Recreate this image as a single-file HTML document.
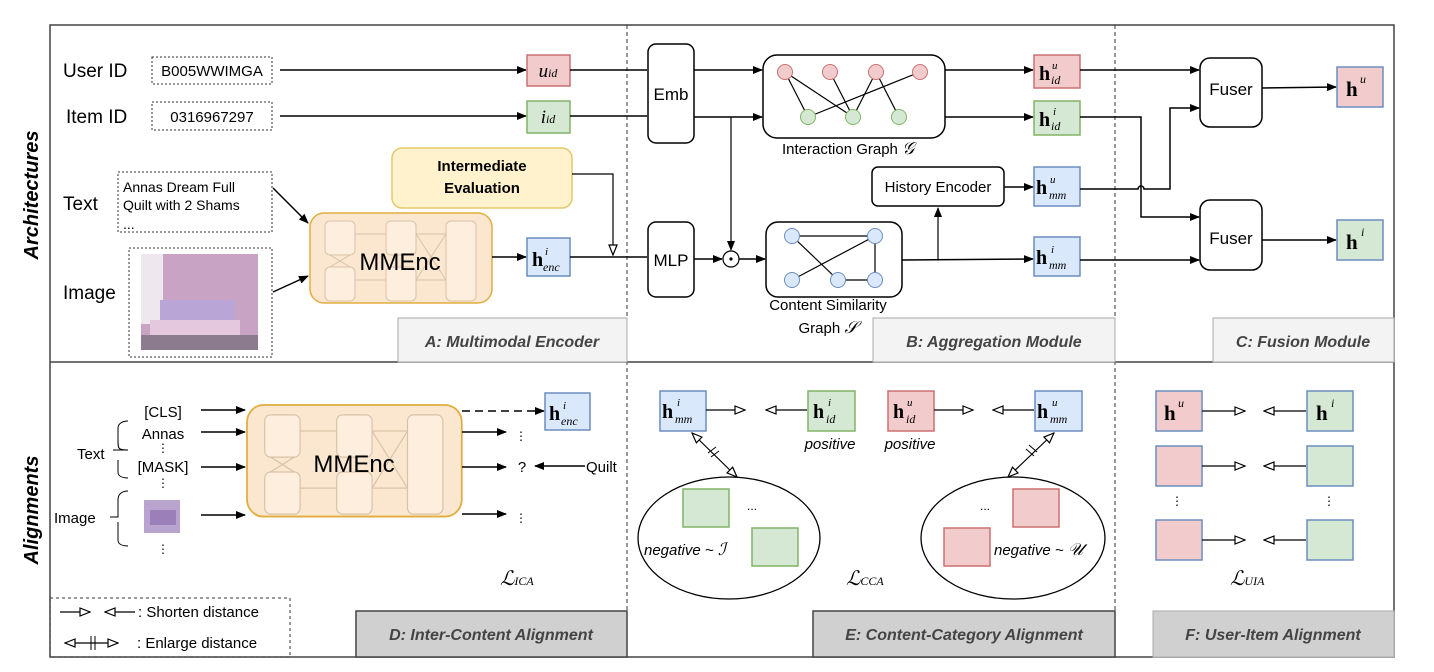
<!DOCTYPE html>
<html><head><meta charset="utf-8"><style>
html,body{margin:0;padding:0;background:#fff;}
svg{display:block;font-family:"Liberation Sans",sans-serif;}
.m{font-family:"Liberation Serif",serif;}
</style></head><body>
<svg width="1434" height="672" viewBox="0 0 1434 672" xmlns="http://www.w3.org/2000/svg">
<defs>
<marker id="a" markerWidth="10" markerHeight="8" refX="9" refY="4" orient="auto" markerUnits="userSpaceOnUse"><path d="M0,0 L10,4 L0,8 z" fill="#000"/></marker>
<marker id="o" markerWidth="12" markerHeight="10" refX="11" refY="5" orient="auto" markerUnits="userSpaceOnUse"><path d="M1,1 L11,5 L1,9 z" fill="#fff" stroke="#000" stroke-width="1.2"/></marker>
<marker id="os" markerWidth="12" markerHeight="10" refX="1" refY="5" orient="auto" markerUnits="userSpaceOnUse"><path d="M11,1 L1,5 L11,9 z" fill="#fff" stroke="#000" stroke-width="1.2"/></marker>
<g id="mm">
<rect x="0" y="0" width="182" height="90" rx="14" fill="#fbe6cf" stroke="#e1ad3f" stroke-width="1.5"/>
<g fill="#fdeedd" stroke="#d9c2a8" stroke-width="1">
<rect x="15" y="8" width="30" height="34" rx="5"/><rect x="15" y="54" width="30" height="34" rx="5"/>
<rect x="76" y="8" width="30" height="34" rx="5"/><rect x="76" y="54" width="30" height="34" rx="5"/>
<rect x="136" y="8" width="30" height="80" rx="5"/>
<path d="M45,21 H76 M45,67 H76 M106,21 H136 M106,67 H136 M20,42 L40,54 M40,42 L20,54 M106,21 L136,67 M136,21 L106,67" fill="none"/>
</g>
</g>
</defs>
<rect x="50" y="25" width="1344" height="632" fill="#fff" stroke="#444" stroke-width="1.5"/>
<line x1="50" y1="362" x2="1394" y2="362" stroke="#444" stroke-width="1.5"/>
<line x1="627" y1="25" x2="627" y2="657" stroke="#333" stroke-dasharray="4,3"/>
<line x1="1115" y1="25" x2="1115" y2="657" stroke="#333" stroke-dasharray="4,3"/>
<text transform="translate(38,195) rotate(-90)" text-anchor="middle" font-size="20" font-weight="bold" font-style="italic">Architectures</text>
<text transform="translate(38,510) rotate(-90)" text-anchor="middle" font-size="20" font-weight="bold" font-style="italic">Alignments</text>

<rect x="398" y="318" width="229" height="44" fill="#f3f3f3" stroke="#aaa"/>
<text x="512" y="347" text-anchor="middle" font-size="16" font-weight="bold" font-style="italic" fill="#444">A: Multimodal Encoder</text>
<rect x="873" y="318" width="242" height="44" fill="#f3f3f3" stroke="#aaa"/>
<text x="994" y="347" text-anchor="middle" font-size="16" font-weight="bold" font-style="italic" fill="#444">B: Aggregation Module</text>
<rect x="1213" y="318" width="181" height="44" fill="#f3f3f3" stroke="#aaa"/>
<text x="1303" y="347" text-anchor="middle" font-size="16" font-weight="bold" font-style="italic" fill="#444">C: Fusion Module</text>
<rect x="356" y="611" width="271" height="46" fill="#d0d0d0" stroke="#444" stroke-width="1.5"/>
<text x="491" y="640" text-anchor="middle" font-size="16" font-weight="bold" font-style="italic" fill="#444">D: Inter-Content Alignment</text>
<rect x="813" y="611" width="302" height="46" fill="#d0d0d0" stroke="#444" stroke-width="1.5"/>
<text x="964" y="640" text-anchor="middle" font-size="16" font-weight="bold" font-style="italic" fill="#444">E: Content-Category Alignment</text>
<rect x="1153" y="611" width="241" height="46" fill="#d0d0d0" stroke="#aaa"/>
<text x="1273" y="640" text-anchor="middle" font-size="16" font-weight="bold" font-style="italic" fill="#444">F: User-Item Alignment</text>

<text x="63" y="77" font-size="19">User ID</text>
<rect x="152" y="57" width="120" height="27" fill="#fff" stroke="#333" stroke-dasharray="2,2"/>
<text x="212" y="76" text-anchor="middle" font-size="15">B005WWIMGA</text>
<line x1="280" y1="70" x2="526" y2="70" stroke="#000" stroke-width="1.5" marker-end="url(#a)"/>
<rect x="527" y="55" width="43" height="31" fill="#f2cccc" stroke="#c97070" stroke-width="1.5"/>
<text x="548" y="77" text-anchor="middle" class="m" font-size="19" font-style="italic">u<tspan font-size="12">id</tspan></text>
<text x="66" y="123" font-size="19">Item ID</text>
<rect x="152" y="102" width="120" height="28" fill="#fff" stroke="#333" stroke-dasharray="2,2"/>
<text x="212" y="122" text-anchor="middle" font-size="15">0316967297</text>
<line x1="280" y1="116" x2="526" y2="116" stroke="#000" stroke-width="1.5" marker-end="url(#a)"/>
<rect x="527" y="101" width="43" height="32" fill="#d5e8d4" stroke="#82b366" stroke-width="1.5"/>
<text x="548" y="123" text-anchor="middle" class="m" font-size="19" font-style="italic">i<tspan font-size="12">id</tspan></text>

<text x="63" y="210" font-size="19">Text</text>
<rect x="118" y="172" width="154" height="60" fill="#fff" stroke="#333" stroke-dasharray="2,2"/>
<text x="123" y="192" font-size="14">Annas Dream Full</text>
<text x="123" y="210" font-size="14">Quilt with 2 Shams</text>
<text x="123" y="229" font-size="14">...</text>
<text x="63" y="299" font-size="19">Image</text>
<rect x="129" y="248" width="143" height="109" fill="#fff" stroke="#333" stroke-dasharray="2,2"/>
<rect x="141" y="254" width="117" height="96" fill="#c9a3c4"/>
<rect x="141" y="254" width="22" height="70" fill="#efe7ee"/>
<rect x="160" y="300" width="75" height="40" fill="#b9a6d6"/>
<rect x="150" y="320" width="90" height="25" fill="#e3c8de"/>
<rect x="141" y="335" width="117" height="15" fill="#8c7a8e"/>
<line x1="273" y1="188" x2="308" y2="223" stroke="#000" stroke-width="1.5" marker-end="url(#a)"/>
<line x1="273" y1="292" x2="308" y2="276" stroke="#000" stroke-width="1.5" marker-end="url(#a)"/>
<use href="#mm" x="310" y="213"/>
<text x="400" y="270" text-anchor="middle" font-size="24">MMEnc</text>
<line x1="492" y1="257" x2="526" y2="257" stroke="#000" stroke-width="1.5" marker-end="url(#a)"/>
<rect x="527" y="238" width="43" height="38" fill="#dae8fc" stroke="#6c8ebf" stroke-width="1.5"/>
<text x="532" y="266" class="m" font-size="20" font-weight="bold">h</text><text x="545" y="255" class="m" font-size="11" font-style="italic">i</text><text x="543" y="271" class="m" font-size="12" font-style="italic">enc</text>
<rect x="392" y="148" width="180" height="60" rx="10" fill="#fff2cc" stroke="#e6c96a" stroke-width="1.5"/>
<text x="482" y="171" text-anchor="middle" font-size="15" font-weight="bold">Intermediate</text>
<text x="482" y="193" text-anchor="middle" font-size="15" font-weight="bold">Evaluation</text>
<polyline points="572,174 613,174 613,255" fill="none" stroke="#000" stroke-width="1.2" marker-end="url(#o)"/>
<line x1="570" y1="257" x2="647" y2="257" stroke="#000" stroke-width="1.5"/>
<line x1="570" y1="70" x2="647" y2="70" stroke="#000" stroke-width="1.5"/>
<line x1="570" y1="116" x2="647" y2="116" stroke="#000" stroke-width="1.5"/>

<rect x="648" y="44" width="46" height="99" rx="8" fill="#fff" stroke="#000" stroke-width="1.5"/>
<text x="671" y="100" text-anchor="middle" font-size="17">Emb</text>
<rect x="648" y="222" width="46" height="75" rx="8" fill="#fff" stroke="#000" stroke-width="1.5"/>
<text x="671" y="266" text-anchor="middle" font-size="17">MLP</text>
<line x1="694" y1="70" x2="762" y2="70" stroke="#000" stroke-width="1.5" marker-end="url(#a)"/>
<line x1="694" y1="117" x2="762" y2="117" stroke="#000" stroke-width="1.5" marker-end="url(#a)"/>
<line x1="731" y1="117" x2="731" y2="250" stroke="#000" stroke-width="1.2" marker-end="url(#a)"/>
<line x1="694" y1="259" x2="722" y2="259" stroke="#000" stroke-width="1.5" marker-end="url(#a)"/>
<circle cx="731" cy="259" r="8" fill="#fff" stroke="#000" stroke-width="1.2"/><circle cx="731" cy="259" r="1.6"/>
<line x1="739" y1="259" x2="765" y2="259" stroke="#000" stroke-width="1.5" marker-end="url(#a)"/>
<rect x="763" y="55" width="182" height="83" rx="14" fill="#fff" stroke="#000" stroke-width="1.5"/>
<g stroke="#000" stroke-width="1.2">
<line x1="785" y1="72" x2="808" y2="117"/><line x1="785" y1="72" x2="853" y2="117"/><line x1="830" y1="72" x2="853" y2="117"/>
<line x1="876" y1="72" x2="853" y2="117"/><line x1="876" y1="72" x2="899" y2="117"/><line x1="920" y1="72" x2="808" y2="117"/>
</g>
<g fill="#f2cccc" stroke="#c97070"><circle cx="785" cy="72" r="7.5"/><circle cx="830" cy="72" r="7.5"/><circle cx="876" cy="72" r="7.5"/><circle cx="920" cy="72" r="7.5"/></g>
<g fill="#d5e8d4" stroke="#82b366"><circle cx="808" cy="117" r="7.5"/><circle cx="853" cy="117" r="7.5"/><circle cx="899" cy="117" r="7.5"/></g>
<text x="782" y="154" font-size="15">Interaction Graph <tspan class="m" font-style="italic" font-size="17">𝒢</tspan></text>
<rect x="766" y="222" width="136" height="75" rx="12" fill="#fff" stroke="#000" stroke-width="1.5"/>
<g stroke="#000" stroke-width="1.2">
<line x1="792" y1="236" x2="875" y2="236"/><line x1="792" y1="236" x2="838" y2="280"/><line x1="875" y1="236" x2="792" y2="280"/>
<line x1="875" y1="236" x2="875" y2="280"/><line x1="838" y1="280" x2="875" y2="280"/></g>
<g fill="#dae8fc" stroke="#6c8ebf"><circle cx="792" cy="236" r="7.5"/><circle cx="875" cy="236" r="7.5"/><circle cx="792" cy="280" r="7.5"/><circle cx="838" cy="280" r="7.5"/><circle cx="875" cy="280" r="7.5"/></g>
<text x="828" y="310" text-anchor="middle" font-size="15">Content Similarity</text>
<text x="828" y="333" text-anchor="middle" font-size="15">Graph <tspan class="m" font-style="italic" font-size="17">𝒮</tspan></text>
<line x1="902" y1="260" x2="1033" y2="259" stroke="#000" stroke-width="1.5" marker-end="url(#a)"/>
<line x1="938" y1="260" x2="938" y2="208" stroke="#000" stroke-width="1.2" marker-end="url(#a)"/>
<rect x="872" y="167" width="132" height="39" rx="6" fill="#fff" stroke="#000" stroke-width="1.5"/>
<text x="938" y="192" text-anchor="middle" font-size="15">History Encoder</text>
<line x1="1004" y1="187" x2="1033" y2="187" stroke="#000" stroke-width="1.5" marker-end="url(#a)"/>
<line x1="945" y1="70" x2="1033" y2="70" stroke="#000" stroke-width="1.5" marker-end="url(#a)"/>
<line x1="945" y1="117" x2="1033" y2="117" stroke="#000" stroke-width="1.5" marker-end="url(#a)"/>
<rect x="1034" y="55" width="46" height="33" fill="#f2cccc" stroke="#c97070" stroke-width="1.5"/>
<text x="1039" y="80" class="m" font-size="20" font-weight="bold">h</text><text x="1052" y="69" class="m" font-size="11" font-style="italic">u</text><text x="1051" y="84" class="m" font-size="12" font-style="italic">id</text>
<rect x="1034" y="101" width="46" height="34" fill="#d5e8d4" stroke="#82b366" stroke-width="1.5"/>
<text x="1039" y="126" class="m" font-size="20" font-weight="bold">h</text><text x="1053" y="115" class="m" font-size="11" font-style="italic">i</text><text x="1051" y="130" class="m" font-size="12" font-style="italic">id</text>
<rect x="1034" y="167" width="46" height="39" fill="#dae8fc" stroke="#6c8ebf" stroke-width="1.5"/>
<text x="1036" y="194" class="m" font-size="20" font-weight="bold">h</text><text x="1050" y="183" class="m" font-size="11" font-style="italic">u</text><text x="1049" y="199" class="m" font-size="12" font-style="italic">mm</text>
<rect x="1034" y="237" width="46" height="39" fill="#dae8fc" stroke="#6c8ebf" stroke-width="1.5"/>
<text x="1036" y="264" class="m" font-size="20" font-weight="bold">h</text><text x="1051" y="253" class="m" font-size="11" font-style="italic">i</text><text x="1049" y="269" class="m" font-size="12" font-style="italic">mm</text>

<line x1="1080" y1="70" x2="1199" y2="70" stroke="#000" stroke-width="1.5" marker-end="url(#a)"/>
<path d="M1080,189 H1138 a3,3 0 0 1 6,0 H1170 V108 H1199" fill="none" stroke="#000" stroke-width="1.5" marker-end="url(#a)"/>
<polyline points="1080,117 1141,117 1141,217 1199,217" fill="none" stroke="#000" stroke-width="1.5" marker-end="url(#a)"/>
<line x1="1080" y1="260" x2="1199" y2="260" stroke="#000" stroke-width="1.5" marker-end="url(#a)"/>
<rect x="1200" y="58" width="62" height="69" rx="10" fill="#fff" stroke="#000" stroke-width="1.5"/>
<text x="1231" y="95" text-anchor="middle" font-size="17">Fuser</text>
<rect x="1200" y="200" width="62" height="70" rx="10" fill="#fff" stroke="#000" stroke-width="1.5"/>
<text x="1231" y="244" text-anchor="middle" font-size="17">Fuser</text>
<line x1="1262" y1="88" x2="1336" y2="87" stroke="#000" stroke-width="1.5" marker-end="url(#a)"/>
<line x1="1262" y1="240" x2="1336" y2="240" stroke="#000" stroke-width="1.5" marker-end="url(#a)"/>
<rect x="1337" y="67" width="46" height="40" fill="#f2cccc" stroke="#6c8ebf" stroke-width="1.5"/>
<text x="1346" y="96" class="m" font-size="21" font-weight="bold">h</text><text x="1360" y="83" class="m" font-size="12" font-style="italic">u</text>
<rect x="1337" y="220" width="46" height="40" fill="#d5e8d4" stroke="#6c8ebf" stroke-width="1.5"/>
<text x="1346" y="249" class="m" font-size="21" font-weight="bold">h</text><text x="1361" y="236" class="m" font-size="12" font-style="italic">i</text>

<text x="163" y="417" text-anchor="middle" font-size="15">[CLS]</text>
<text x="163" y="439" text-anchor="middle" font-size="15">Annas</text>
<text x="163" y="452" text-anchor="middle" font-size="12">⋮</text>
<text x="163" y="472" text-anchor="middle" font-size="15">[MASK]</text>
<text x="163" y="487" text-anchor="middle" font-size="12">⋮</text>
<text x="163" y="553" text-anchor="middle" font-size="12">⋮</text>
<text x="77" y="459" font-size="15">Text</text>
<text x="54" y="523" font-size="15">Image</text>
<path d="M128,450 H113 M128,450 C118,450 118,449 118,440 V428 C118,424 122,421 128,421 M118,460 V472 C118,476 122,478 128,478" fill="none" stroke="#000"/>
<path d="M110,517 H118 C118,510 118,505 118,500 C118,494 122,491 128,491 M118,522 V540 C118,544 122,546 128,546" fill="none" stroke="#000"/>
<rect x="144" y="500" width="36" height="33" fill="#b8a4cf"/>
<rect x="150" y="510" width="26" height="15" fill="#9a7fb8"/>
<line x1="201" y1="410" x2="245" y2="410" stroke="#000" stroke-width="1.5" marker-end="url(#a)"/>
<line x1="201" y1="432" x2="245" y2="432" stroke="#000" stroke-width="1.5" marker-end="url(#a)"/>
<line x1="201" y1="467" x2="245" y2="467" stroke="#000" stroke-width="1.5" marker-end="url(#a)"/>
<line x1="201" y1="515" x2="245" y2="515" stroke="#000" stroke-width="1.5" marker-end="url(#a)"/>
<use href="#mm" transform="translate(247,405) scale(1.18,1.24)"/>
<text x="354" y="472" text-anchor="middle" font-size="24">MMEnc</text>
<line x1="462" y1="411" x2="544" y2="411" stroke="#000" stroke-width="1.5" stroke-dasharray="8,5" marker-end="url(#a)"/>
<line x1="462" y1="432" x2="506" y2="432" stroke="#000" stroke-width="1.5" marker-end="url(#a)"/>
<line x1="462" y1="467" x2="506" y2="467" stroke="#000" stroke-width="1.5" marker-end="url(#a)"/>
<line x1="462" y1="514" x2="506" y2="514" stroke="#000" stroke-width="1.5" marker-end="url(#a)"/>
<text x="521" y="440" text-anchor="middle" font-size="12">⋮</text>
<text x="521" y="522" text-anchor="middle" font-size="12">⋮</text>
<text x="522" y="472" text-anchor="middle" font-size="15">?</text>
<line x1="585" y1="466" x2="535" y2="466" stroke="#000" stroke-width="1.5" marker-end="url(#a)"/>
<text x="586" y="472" font-size="15">Quilt</text>
<rect x="545" y="393" width="45" height="37" fill="#dae8fc" stroke="#6c8ebf" stroke-width="1.5"/>
<text x="549" y="420" class="m" font-size="20" font-weight="bold">h</text><text x="563" y="409" class="m" font-size="11" font-style="italic">i</text><text x="561" y="425" class="m" font-size="12" font-style="italic">enc</text>
<text x="500" y="585" class="m" font-size="20" font-style="italic">ℒ<tspan font-size="12">ICA</tspan></text>
<rect x="50" y="598" width="240" height="59" fill="none" stroke="#333" stroke-dasharray="3,3"/>
<line x1="60" y1="612" x2="90" y2="612" stroke="#000" stroke-width="1.2" marker-end="url(#o)"/>
<line x1="135" y1="612" x2="105" y2="612" stroke="#000" stroke-width="1.2" marker-end="url(#o)"/>
<text x="138" y="617" font-size="15">: Shorten distance</text>
<line x1="65" y1="643" x2="118" y2="643" stroke="#000" stroke-width="1.2" marker-start="url(#os)" marker-end="url(#o)"/>
<line x1="91" y1="636" x2="91" y2="650" stroke="#000"/><line x1="95" y1="636" x2="95" y2="650" stroke="#000"/>
<text x="137" y="648" font-size="15">: Enlarge distance</text>

<rect x="660" y="391" width="46" height="40" fill="#dae8fc" stroke="#6c8ebf" stroke-width="1.5"/>
<text x="662" y="418" class="m" font-size="20" font-weight="bold">h</text><text x="677" y="406" class="m" font-size="11" font-style="italic">i</text><text x="675" y="423" class="m" font-size="12" font-style="italic">mm</text>
<line x1="706" y1="410" x2="745" y2="410" stroke="#000" stroke-width="1.2" marker-end="url(#o)"/>
<line x1="807" y1="410" x2="766" y2="410" stroke="#000" stroke-width="1.2" marker-end="url(#o)"/>
<rect x="808" y="391" width="47" height="40" fill="#d5e8d4" stroke="#82b366" stroke-width="1.5"/>
<text x="813" y="418" class="m" font-size="20" font-weight="bold">h</text><text x="828" y="406" class="m" font-size="11" font-style="italic">i</text><text x="826" y="423" class="m" font-size="12" font-style="italic">id</text>
<text x="830" y="449" text-anchor="middle" font-size="15" font-style="italic">positive</text>
<rect x="888" y="391" width="46" height="40" fill="#f2cccc" stroke="#c97070" stroke-width="1.5"/>
<text x="893" y="418" class="m" font-size="20" font-weight="bold">h</text><text x="907" y="406" class="m" font-size="11" font-style="italic">u</text><text x="906" y="423" class="m" font-size="12" font-style="italic">id</text>
<text x="910" y="449" text-anchor="middle" font-size="15" font-style="italic">positive</text>
<line x1="934" y1="410" x2="973" y2="410" stroke="#000" stroke-width="1.2" marker-end="url(#o)"/>
<line x1="1034" y1="410" x2="993" y2="410" stroke="#000" stroke-width="1.2" marker-end="url(#o)"/>
<rect x="1035" y="391" width="47" height="40" fill="#dae8fc" stroke="#6c8ebf" stroke-width="1.5"/>
<text x="1037" y="418" class="m" font-size="20" font-weight="bold">h</text><text x="1052" y="406" class="m" font-size="11" font-style="italic">u</text><text x="1050" y="423" class="m" font-size="12" font-style="italic">mm</text>
<line x1="692" y1="433" x2="737" y2="477" stroke="#000" stroke-width="1.2" marker-start="url(#os)" marker-end="url(#o)"/>
<line x1="1054" y1="433" x2="1008" y2="477" stroke="#000" stroke-width="1.2" marker-start="url(#os)" marker-end="url(#o)"/>
<path d="M708,453 L716,447 M711,457 L719,451" stroke="#000"/>
<path d="M1026,449 L1034,456 M1029,445 L1037,452" stroke="#000"/>
<ellipse cx="729" cy="538" rx="91" ry="61" fill="none" stroke="#000" stroke-width="1.3"/>
<ellipse cx="1013" cy="538" rx="92" ry="61" fill="none" stroke="#000" stroke-width="1.3"/>
<rect x="683" y="489" width="46" height="38" fill="#d5e8d4" stroke="#82b366" stroke-width="1.5"/>
<rect x="752" y="528" width="46" height="38" fill="#d5e8d4" stroke="#82b366" stroke-width="1.5"/>
<text x="747" y="510" font-size="12">...</text>
<text x="644" y="555" font-size="15" font-style="italic">negative ~ <tspan class="m" font-size="17">ℐ</tspan></text>
<rect x="1013" y="489" width="46" height="38" fill="#f2cccc" stroke="#c97070" stroke-width="1.5"/>
<rect x="944" y="528" width="46" height="38" fill="#f2cccc" stroke="#c97070" stroke-width="1.5"/>
<text x="980" y="510" font-size="12">...</text>
<text x="994" y="555" font-size="15" font-style="italic">negative ~ <tspan class="m" font-size="17">𝒰</tspan></text>
<text x="846" y="585" class="m" font-size="20" font-style="italic">ℒ<tspan font-size="12">CCA</tspan></text>

<g stroke-width="1.5">
<rect x="1156" y="391" width="46" height="40" fill="#f2cccc" stroke="#6c8ebf"/>
<rect x="1307" y="391" width="46" height="40" fill="#d5e8d4" stroke="#6c8ebf"/>
<rect x="1156" y="446" width="46" height="40" fill="#f2cccc" stroke="#6c8ebf"/>
<rect x="1307" y="446" width="46" height="40" fill="#d5e8d4" stroke="#6c8ebf"/>
<rect x="1156" y="520" width="46" height="40" fill="#f2cccc" stroke="#6c8ebf"/>
<rect x="1307" y="520" width="46" height="40" fill="#d5e8d4" stroke="#6c8ebf"/>
</g>
<text x="1164" y="420" class="m" font-size="21" font-weight="bold">h</text><text x="1178" y="407" class="m" font-size="12" font-style="italic">u</text>
<text x="1316" y="420" class="m" font-size="21" font-weight="bold">h</text><text x="1331" y="407" class="m" font-size="12" font-style="italic">i</text>
<g stroke="#000" stroke-width="1.2">
<line x1="1202" y1="411" x2="1245" y2="411" marker-end="url(#o)"/><line x1="1306" y1="411" x2="1264" y2="411" marker-end="url(#o)"/>
<line x1="1202" y1="466" x2="1245" y2="466" marker-end="url(#o)"/><line x1="1306" y1="466" x2="1264" y2="466" marker-end="url(#o)"/>
<line x1="1202" y1="540" x2="1245" y2="540" marker-end="url(#o)"/><line x1="1306" y1="540" x2="1264" y2="540" marker-end="url(#o)"/>
</g>
<text x="1177" y="505" text-anchor="middle" font-size="12">⋮</text>
<text x="1329" y="505" text-anchor="middle" font-size="12">⋮</text>
<text x="1230" y="585" class="m" font-size="20" font-style="italic">ℒ<tspan font-size="12">UIA</tspan></text>
</svg>
</body></html>
